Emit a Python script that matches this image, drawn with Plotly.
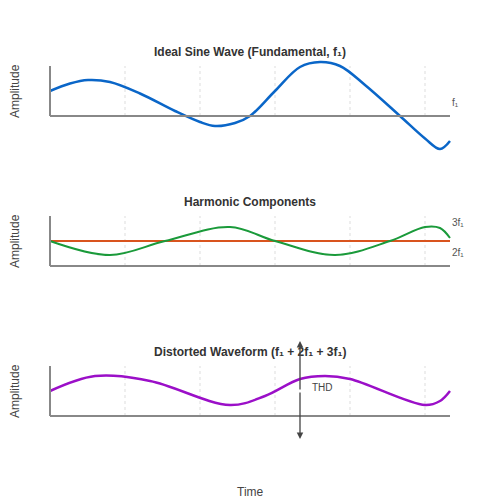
import plotly.graph_objects as go

# amplitude values, time in units of 0..8
t_fund = [0, 0.4, 0.76, 1.2, 1.8, 2.5, 3.0, 3.3, 3.7, 4.0, 4.5, 5.0, 5.4, 5.8, 6.3, 7.0, 7.5, 7.8, 8.0]
fund = [0.5, 0.65, 0.72, 0.68, 0.45, 0.1, -0.12, -0.2, -0.14, 0.0, 0.5, 0.98, 1.08, 1.0, 0.62, 0.0, -0.45, -0.66, -0.5]

t_harm = [0, 1.2, 2.3, 3.6, 4.5, 5.7, 6.8, 7.5, 7.8, 8.0]
h3 = [0.5, 0.22, 0.5, 0.78, 0.5, 0.22, 0.5, 0.78, 0.76, 0.56]
h2 = [0.5] * len(t_harm)

t_dist = [0, 0.9, 2.0, 3.6, 4.3, 5.0, 5.5, 6.0, 7.5, 7.8, 8.0]
dist = [0.5, 0.8, 0.7, 0.22, 0.4, 0.74, 0.8, 0.74, 0.22, 0.3, 0.5]

titles = ["Ideal Sine Wave (Fundamental, f₁)", "Harmonic Components", "Distorted Waveform (f₁ + 2f₁ + 3f₁)"]
offsets = [8, 5, 2]
grid_x = [1.5, 3, 4.5, 6, 7.5]

fig = go.Figure()
fig.add_trace(go.Scatter(x=t_fund, y=[v + offsets[0] for v in fund], mode="lines",
                         line=dict(color="#0a66c8", width=2.5, shape="spline")))
fig.add_trace(go.Scatter(x=t_harm, y=[v + offsets[1] for v in h2], mode="lines",
                         line=dict(color="#d9541e", width=2)))
fig.add_trace(go.Scatter(x=t_harm, y=[v + offsets[1] for v in h3], mode="lines",
                         line=dict(color="#1a9a3a", width=2, shape="spline")))
fig.add_trace(go.Scatter(x=t_dist, y=[v + offsets[2] for v in dist], mode="lines",
                         line=dict(color="#9b0fc8", width=2.5, shape="spline")))

shapes = []
annots = []
for title, off in zip(titles, offsets):
    for gx in grid_x:
        shapes.append(dict(type="line", x0=gx, x1=gx, y0=off, y1=off + 1, layer="below",
                           line=dict(color="#dddddd", width=1, dash="dot")))
    shapes.append(dict(type="line", x0=0, x1=8, y0=off, y1=off, line=dict(color="#888", width=2)))
    shapes.append(dict(type="line", x0=0, x1=0, y0=off, y1=off + 1, line=dict(color="#888", width=2)))
    annots.append(dict(x=4, y=off + 1.28, text="<b>" + title + "</b>", showarrow=False,
                       font=dict(size=12, color="#333")))
    annots.append(dict(x=-0.7, y=off + 0.5, text="Amplitude", textangle=-90, showarrow=False,
                       font=dict(size=12, color="#444")))

labels = [("f₁", 8.28), ("3f₁", 5.88), ("2f₁", 5.28)]
for txt, y in labels:
    annots.append(dict(x=8.0, y=y, text=txt, showarrow=False, xanchor="left",
                       font=dict(size=10, color="#555")))
annots.append(dict(x=5.2, y=2.58, text="THD", showarrow=False, xanchor="left",
                   font=dict(size=10, color="#444")))
annots.append(dict(x=4, y=0.48, text="Time", showarrow=False, font=dict(size=12, color="#444")))
# double arrow for THD
for y0, y1 in [(2.5, 3.5), (2.5, 1.54)]:
    annots.append(dict(x=5, y=y1, ax=5, ay=y0, xref="x", yref="y", axref="x", ayref="y", text="",
                       showarrow=True, arrowhead=2, arrowsize=1, arrowwidth=1.3, arrowcolor="#444"))

fig.update_layout(
    width=500, height=500, showlegend=False,
    margin=dict(l=0, r=0, t=0, b=0),
    paper_bgcolor="white", plot_bgcolor="white",
    font=dict(family="Liberation Sans, Arial, sans-serif"),
    xaxis=dict(range=[-0.84, 9.16], visible=False),
    yaxis=dict(range=[0.16, 10.16], visible=False),
    shapes=shapes, annotations=annots,
)

fig.write_html("out.html")
